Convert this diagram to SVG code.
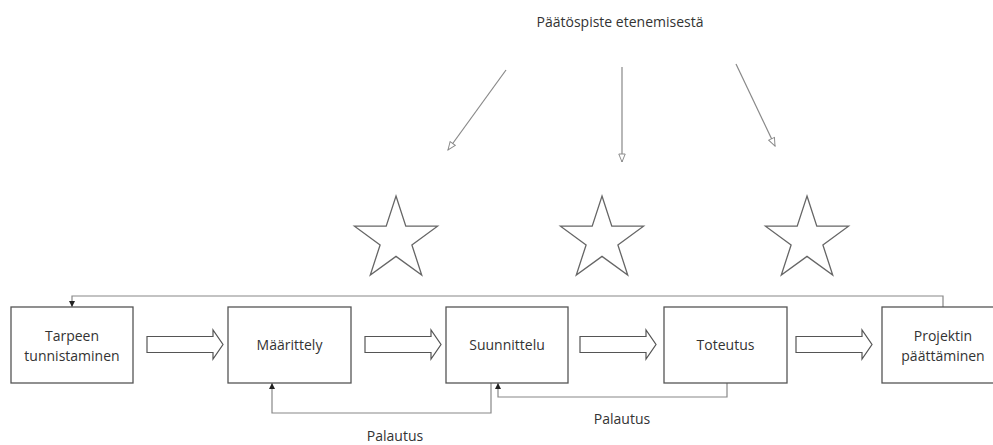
<svg xmlns="http://www.w3.org/2000/svg" width="993" height="445" viewBox="0 0 993 445">
<style>
.box{fill:#fff;stroke:#555;stroke-width:1.3}
.t{font-family:"Open Sans","Liberation Sans",sans-serif;font-size:14px;fill:#333;text-anchor:middle}
.ln{fill:none;stroke:#888;stroke-width:1.2}
.star{fill:#fff;stroke:#666;stroke-width:1.3;stroke-linejoin:miter}
.barrow{fill:#fff;stroke:#555;stroke-width:1.2}
</style>
<defs>
<marker id="solid" viewBox="0 0 10 10" refX="10" refY="5" markerWidth="6" markerHeight="6" markerUnits="userSpaceOnUse" orient="auto">
<path d="M0,0 L10,5 L0,10 Z" fill="#222"/>
</marker>
<marker id="hollow" viewBox="0 0 12 10" refX="11" refY="5" markerWidth="10" markerHeight="8" markerUnits="userSpaceOnUse" orient="auto">
<path d="M1,1 L11,5 L1,9 Z" fill="#fff" stroke="#888" stroke-width="1.2"/>
</marker>
<polygon id="starShape" points="0,-43.7 9.8,-13.5 41.5,-13.5 15.9,5.2 25.7,35.4 0,16.7 -25.7,35.4 -15.9,5.2 -41.5,-13.5 -9.8,-13.5"/>
<path id="blockArrow" d="M0,-8 H66 V-14.5 L76,0 L66,14.5 V8 H0 Z"/>
</defs>

<text class="t" x="620" y="27">Päätöspiste etenemisestä</text>

<g id="connectors">
<line class="ln" x1="506" y1="70" x2="448" y2="150" marker-end="url(#hollow)"/>
<line class="ln" x1="622" y1="67" x2="622" y2="162" marker-end="url(#hollow)"/>
<line class="ln" x1="736" y1="64" x2="775" y2="146" marker-end="url(#hollow)"/>
<polyline class="ln" points="943,307 943,296 72,296 72,307" marker-end="url(#solid)"/>
<polyline class="ln" points="491,383 491,413 272,413 272,383" marker-end="url(#solid)"/>
<polyline class="ln" points="727,383 727,397 498,397 498,383" marker-end="url(#solid)"/>
<use href="#blockArrow" class="barrow" x="147" y="344.5"/>
<use href="#blockArrow" class="barrow" x="365" y="344.5"/>
<use href="#blockArrow" class="barrow" x="580" y="344.5"/>
<use href="#blockArrow" class="barrow" x="796" y="344.5"/>
</g>

<g id="stars">
<use href="#starShape" class="star" x="396" y="239.7"/>
<use href="#starShape" class="star" x="602" y="239.7"/>
<use href="#starShape" class="star" x="807" y="239.7"/>
</g>

<g id="n1"><rect class="box" x="11" y="307" width="122" height="76"/><text class="t" x="72" y="341">Tarpeen</text><text class="t" x="72" y="361">tunnistaminen</text></g>
<g id="n2"><rect class="box" x="228" y="307" width="123" height="76"/><text class="t" x="289.5" y="350">Määrittely</text></g>
<g id="n3"><rect class="box" x="446" y="307" width="122" height="76"/><text class="t" x="507" y="350">Suunnittelu</text></g>
<g id="n4"><rect class="box" x="664" y="307" width="123" height="76"/><text class="t" x="725.5" y="350">Toteutus</text></g>
<g id="n5"><rect class="box" x="882" y="307" width="122" height="76"/><text class="t" x="943" y="341">Projektin</text><text class="t" x="943" y="361">päättäminen</text></g>

<text class="t" x="395" y="441">Palautus</text>
<text class="t" x="622" y="424">Palautus</text>
</svg>
